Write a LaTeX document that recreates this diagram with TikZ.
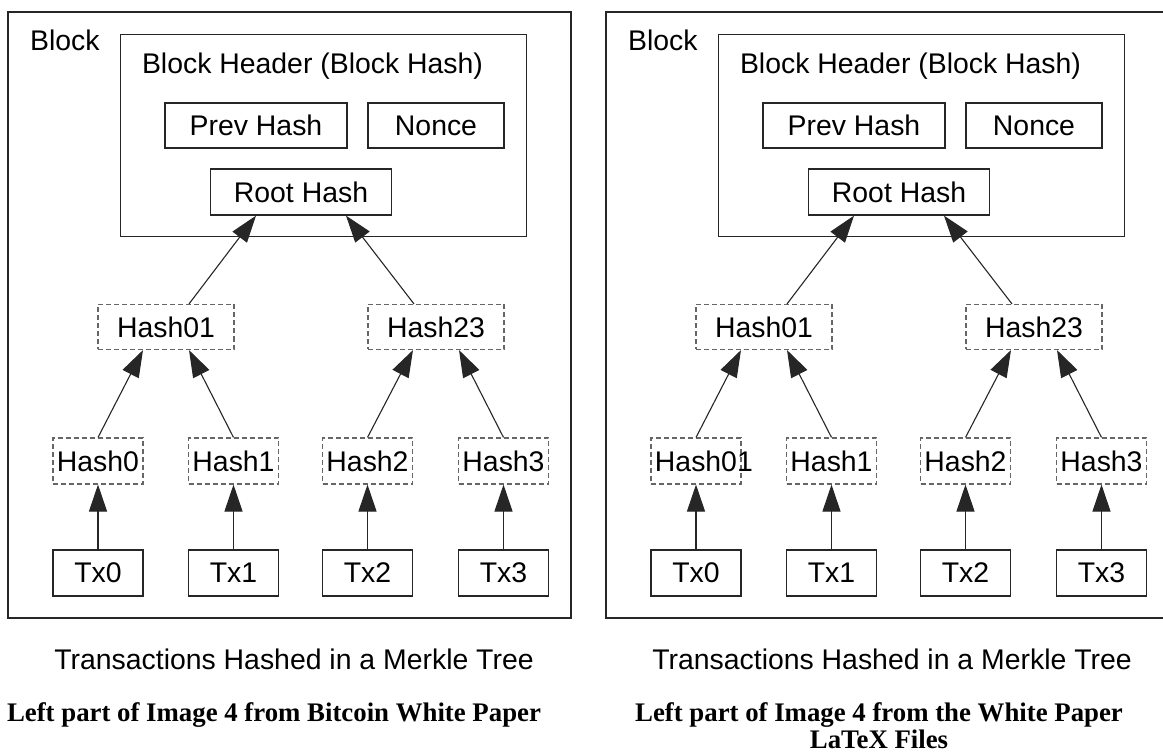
\documentclass[tikz,border=0pt]{standalone}
\usepackage{fontspec}
\setmainfont{Liberation Sans}
\newfontfamily\papercapfont{Liberation Serif}
\usetikzlibrary{arrows.meta}

\begin{document}
\begin{tikzpicture}[x=1pt,y=-1pt,
    box/.style ={rectangle, draw=black!85, line width=1.3pt, inner sep=0pt, minimum height=45pt},
    hashbox/.style ={box, draw=black!60, dash pattern=on 5pt off 3pt, line width=1.1pt},
    txt/.style ={inner sep=0pt, font=\fontsize{28.4}{34}\selectfont},
    papercap/.style ={inner sep=0pt, align=center, font=\papercapfont\bfseries\fontsize{26.8}{27}\selectfont},
    hashto/.style ={draw=black!85, line width=1.1pt, -{Triangle[length=27pt, width=18pt]}}]
  \useasboundingbox (0,0) rectangle (1163,754);
  \foreach \dx/\p/\hzero in {0/l/{Hash0}, 598/r/{Hash0\rlap{1}}} {
    \begin{scope}[xshift=\dx, name prefix=\p-]
      % block and header
      \node[box, minimum width=563pt, minimum height=606pt] (blk) at (289.5,315) {};
      \node[txt, anchor=base west] (blklabel) at (30,51) {Block};
      \node[box, minimum width=406pt, minimum height=202pt] (hdr) at (323.5,135.5) {};
      \node[txt, anchor=base] (hdrlabel) at (312.5,74) {Block Header (Block Hash)};
      \node[box, txt, minimum width=182pt] (prev) at (256,125.5) {Prev Hash};
      \node[box, txt, minimum width=136pt] (nonce) at (436,125.5) {Nonce};
      \node[box, txt, minimum width=181pt, minimum height=46pt] (root) at (301,192) {Root Hash};
      % merkle tree
      \node[hashbox, txt, minimum width=136pt] (h01) at (166,327) {Hash01};
      \node[hashbox, txt, minimum width=136pt] (h23) at (436,327) {Hash23};
      \foreach \i/\x/\t in {0/98/\hzero, 1/233.5/Hash1, 2/367.5/Hash2, 3/503.5/Hash3} {
        \node[hashbox, txt, minimum width=90pt, minimum height=46pt] (h\i) at (\x,461) {\t};
        \node[box, txt, minimum width=90pt, minimum height=46pt] (tx\i) at (\x,573) {Tx\i};
        \draw[hashto] (tx\i) -- (h\i);
      }
      \draw[hashto] (h0.north) -- ([xshift=-23pt]h01.south);
      \draw[hashto] (h1.north) -- ([xshift=23pt]h01.south);
      \draw[hashto] (h2.north) -- ([xshift=-23pt]h23.south);
      \draw[hashto] (h3.north) -- ([xshift=23pt]h23.south);
      \draw[hashto] ([xshift=23pt]h01.north) -- ([xshift=-45pt]root.south);
      \draw[hashto] ([xshift=-22pt]h23.north) -- ([xshift=45pt]root.south);
      \node[txt, anchor=base] (cap) at (294,669) {Transactions Hashed in a Merkle Tree};
    \end{scope}
  }
  \node[papercap, anchor=base] (srcl) at (274,721) {Left part of Image 4 from Bitcoin White Paper};
  \node[papercap, anchor=base] (srcr) at (879,748) {Left part of Image 4 from the White Paper\\LaTeX Files};
\end{tikzpicture}
\end{document}
